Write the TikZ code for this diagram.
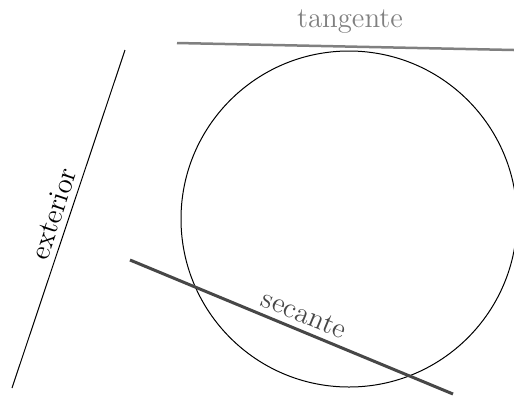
\documentclass[tikz,border=0pt]{standalone}
\begin{document}
\begin{tikzpicture}[x=0.5pt,y=-0.5pt,
  lbl/.style={font=\Large, inner sep=3pt},
  tanline/.style={draw=gray, line width=1.25pt},
  secline/.style={draw=black!72, line width=1.5pt},
  extline/.style={draw=black, line width=0.5pt}]
\useasboundingbox (0,0) rectangle (514,398);
\clip (0,0) rectangle (514,398);
\coordinate (c) at (349,219);
\draw[line width=0.5pt] (c) circle[radius=84pt];
\coordinate (t1) at (177,43);
\coordinate (t2) at (514,50);
\draw[tanline] (t1) -- (t2);
\node[lbl, text=gray] (tl) at (350,22) {tangente};
\coordinate (e1) at (12,388);
\coordinate (e2) at (125,50);
\draw[extline] (e1) -- node[lbl, sloped, above, pos=0.5] (el) {exterior} (e2);
\coordinate (s1) at (130,260);
\coordinate (s2) at (453,394);
\draw[secline] (s1) -- node[lbl, text=black!72, sloped, above, pos=0.52] (sl) {secante} (s2);
\end{tikzpicture}
\end{document}
